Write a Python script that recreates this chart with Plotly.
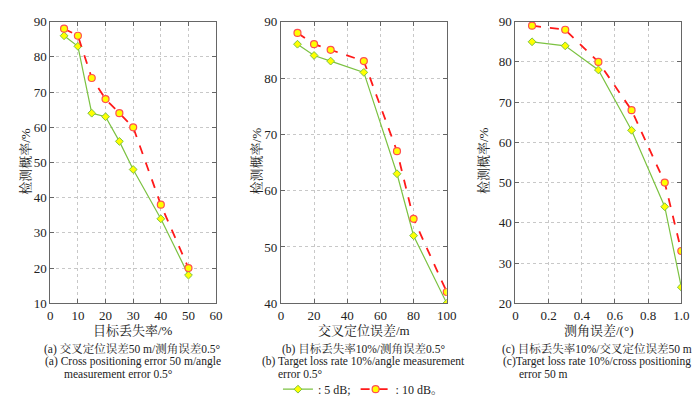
import plotly.graph_objects as go

# Data
a_x = [5, 10, 15, 20, 25, 30, 40, 50]
a_5db = [86, 83, 64, 63, 56, 48, 34, 18]
a_10db = [88, 86, 74, 68, 64, 60, 38, 20]

b_x = [10, 20, 30, 50, 70, 80, 100]
b_5db = [86, 84, 83, 81, 63, 52, 40]
b_10db = [88, 86, 85, 83, 67, 55, 42]

c_x = [0.1, 0.3, 0.5, 0.7, 0.9, 1.0]
c_5db = [85, 84, 78, 63, 44, 24]
c_10db = [89, 88, 80, 68, 50, 33]

W, H = 700, 396
FONT = "Liberation Serif, Times New Roman, Noto Serif CJK SC, Noto Sans CJK SC, serif"
GREEN = "#7cc242"
RED = "#ff1a1a"
YEL = "#ffff00"
AX = "#666666"

fig = go.Figure()

panels = [
    (a_x, a_5db, a_10db, "", (40, 209), [0, 60], [10, 90], list(range(0, 61, 10)), list(range(10, 91, 10)), None),
    (b_x, b_5db, b_10db, "2", (275, 444), [0, 100], [40, 90], list(range(0, 101, 20)), list(range(40, 91, 10)), None),
    (c_x, c_5db, c_10db, "3", (514, 683), [0, 1.0], [20, 90], [0, 0.2, 0.4, 0.6, 0.8, 1.0], list(range(20, 91, 10)),
     ["0", "0.2", "0.4", "0.6", "0.8", "1.0"]),
]

ytop, ybot = 7, 302
for i, (xs, y5, y10, suf, (x0, x1), xr, yr, xt, yt, xtt) in enumerate(panels):
    xa = "x" + suf
    ya = "y" + suf
    fig.add_trace(go.Scatter(x=xs, y=y5, xaxis=xa, yaxis=ya, mode="lines+markers",
                             name=": 5 dB;", showlegend=(i == 0),
                             line=dict(color=GREEN, width=1.2),
                             marker=dict(symbol="diamond", size=6, color=YEL,
                                         line=dict(color=GREEN, width=1))))
    fig.add_trace(go.Scatter(x=xs, y=y10, xaxis=xa, yaxis=ya, mode="lines+markers",
                             name=": 10 dB。", showlegend=(i == 0),
                             line=dict(color=RED, width=1.8, dash="dash"),
                             marker=dict(symbol="circle", size=7, color=YEL,
                                         line=dict(color="#ff5050", width=1.2))))
    common = dict(showgrid=True, gridcolor="#c8c8c8", griddash="dot", gridwidth=1,
                  zeroline=False, showline=True, linecolor=AX, linewidth=1,
                  mirror="ticks", ticks="inside", ticklen=4, tickcolor=AX,
                  tickfont=dict(size=13, color="#222"), ticklabeloverflow="allow")
    fig.layout["xaxis" + suf] = dict(domain=[x0 / W, x1 / W], range=xr, tickvals=xt,
                                     ticktext=xtt if xtt else [str(v) for v in xt],
                                     anchor=ya, **common)
    fig.layout["yaxis" + suf] = dict(domain=[1 - ybot / H, 1 - ytop / H], range=yr, tickvals=yt,
                                     anchor=xa, **common)

xtitles = ["目标丢失率/%", "交叉定位误差/m", "测角误差/(°)"]
xcenters = [124.5, 359.5, 598.5]
ylab_x = [14, 250, 481]
captions = [
    ("(a) 交叉定位误差50 m/测角误差0.5°", "(a) Cross positioning error 50 m/angle", "measurement error 0.5°", 124, 52),
    ("(b) 目标丢失率10%/测角误差0.5°", "(b) Target loss rate 10%/angle measurement", "error 0.5°", 359, 270),
    ("(c) 目标丢失率10%/交叉定位误差50 m", "(c)Target loss rate 10%/cross positioning", "error 50 m", 597, 516),
]

ann = []
for i in range(3):
    ann.append(dict(text=xtitles[i], x=xcenters[i] / W, y=1 - 330 / H, xref="paper", yref="paper",
                    showarrow=False, font=dict(size=13, color="#222"), xanchor="center", yanchor="middle"))
    ann.append(dict(text="检测概率/%", x=ylab_x[i] / W, y=1 - 153 / H, xref="paper", yref="paper",
                    showarrow=False, textangle=-90, font=dict(size=13, color="#222"),
                    xanchor="center", yanchor="middle"))
    c1, c2, c3, cx, lx = captions[i]
    ann.append(dict(text=c1, x=cx / W, y=1 - 350 / H, xref="paper", yref="paper", showarrow=False,
                    font=dict(size=11.5, color="#222"), xanchor="center", yanchor="middle"))
    ann.append(dict(text=c2, x=cx / W, y=1 - 363 / H, xref="paper", yref="paper", showarrow=False,
                    font=dict(size=11.5, color="#222"), xanchor="center", yanchor="middle"))
    ann.append(dict(text=c3, x=lx / W, y=1 - 376 / H, xref="paper", yref="paper", showarrow=False,
                    font=dict(size=11.5, color="#222"), xanchor="left", yanchor="middle"))

fig.update_layout(
    width=W, height=H, margin=dict(l=0, r=0, t=0, b=0),
    paper_bgcolor="white", plot_bgcolor="white",
    font=dict(family=FONT, color="#222"),
    annotations=ann,
    legend=dict(orientation="h", x=272 / W, y=1 - 392 / H, xanchor="left", yanchor="middle",
                font=dict(size=12), bgcolor="rgba(0,0,0,0)", itemwidth=30, tracegroupgap=0),
)

fig.write_html("out.html")
